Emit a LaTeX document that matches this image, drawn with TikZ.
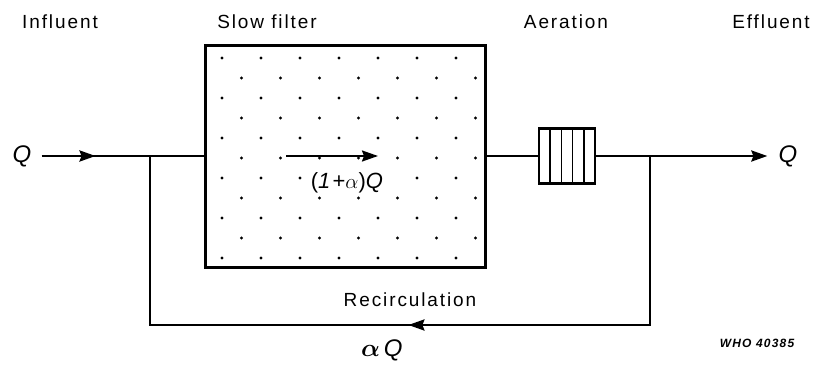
\documentclass[tikz,border=0pt]{standalone}
\usepackage{amsmath}
\usepackage{fontspec}
\setmainfont[LetterSpace=10]{Liberation Sans}
\usetikzlibrary{arrows.meta,decorations.markings,calc}
\begin{document}
\begin{tikzpicture}[x=1pt, y=-1pt, line width=2.6pt, >={Stealth[length=16pt,width=11pt,inset=2pt]},
  lbl/.style={font=\fontsize{19}{22}\selectfont, inner sep=0pt},
  flow/.style={font=\fontsize{24}{28}\selectfont\itshape, inner sep=0pt},
  midarrow/.style={postaction={decorate}, decoration={markings, mark=at position #1 with {\arrow{>}}}}]
\useasboundingbox (0,0) rectangle (818,364);
\node[lbl] (influent) at (60,22) {Influent};
\node[lbl] (slow) at (267,22) {Slow filter};
\node[lbl] (aeration) at (566,22) {Aeration};
\node[lbl] (effluent) at (771,22) {Effluent};
\node[draw, line width=3pt, minimum width=280pt, minimum height=222pt, inner sep=0pt, outer sep=0pt] (filter) at (345,156) {};
\foreach \r in {0,...,10} {
  \pgfmathsetmacro\xs{mod(\r,2)==0 ? 222 : 241.5}
  \foreach \c in {0,...,6}
    \fill ({\xs+39*\c}, {58+20*\r}) circle (1.6pt);
}
\coordinate (fa) at (286,156);
\coordinate (fb) at (378,156);
\draw[->, line width=2pt] (fa) -- (fb);
\node[flow, fill=white, inner sep=2pt, font=\fontsize{22}{26}\selectfont] (mix) at (348,183) {(\textit{1}+$\alpha$)\textit{Q}};
\node[draw, line width=2.6pt, minimum width=56pt, minimum height=55pt, inner sep=0pt, outer sep=0pt] (aer) at (567,156) {};
\foreach \i in {1,...,4}
  \draw[line width=1.6pt] ($(aer.north west)!\i/5!(aer.north east)$) -- ($(aer.south west)!\i/5!(aer.south east)$);
\node[flow] (qin) at (22,156) {Q};
\node[flow] (qout) at (788,156) {Q};
\coordinate (jl) at (150,156);
\coordinate (jr) at (650,156);
\coordinate (bl) at (150,325);
\coordinate (br) at (650,325);
\draw[midarrow=0.33] ([xshift=9pt]qin.east) -- (qin -| filter.west);
\draw (filter.east) -- (aer.west);
\draw[->, shorten >=10pt] (aer.east) -- (qout.west);
\draw[midarrow=0.49] (jr) -- (br) -- (bl) -- (jl);
\node[lbl] (recirc) at (410,300) {Recirculation};
\node[flow, font=\fontsize{24}{28}\selectfont] (aq) at (383,350) {$\boldsymbol{\alpha}$\,\textit{Q}};
\node[inner sep=0pt, font=\fontsize{12}{14}\selectfont\bfseries\itshape] (who) at (757,343) {WHO 40385};
\end{tikzpicture}
\end{document}
